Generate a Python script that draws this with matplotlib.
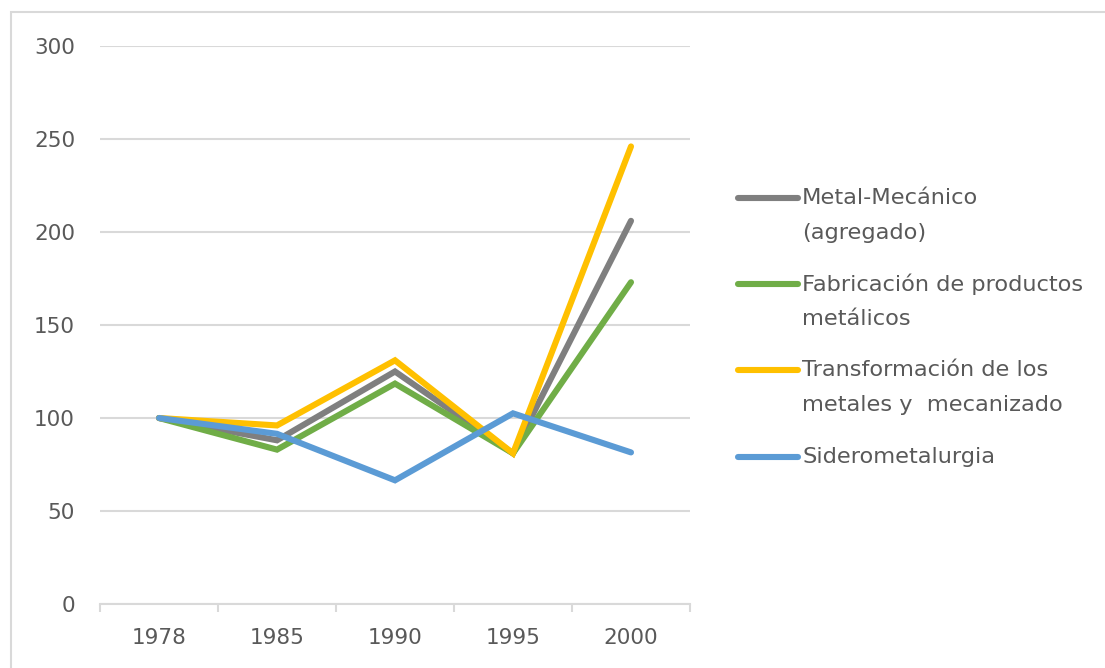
import matplotlib
matplotlib.use("Agg")
import matplotlib.pyplot as plt
from matplotlib.lines import Line2D
from matplotlib.patches import Rectangle

years = ["1978", "1985", "1990", "1995", "2000"]
metal_mecanico = [100, 88, 125, 81, 206]
fabricacion = [100, 83, 118.5, 81, 173]
transformacion = [100, 96, 131, 81, 246]
siderometalurgia = [100, 91.5, 66.5, 102.5, 81.5]

series = [
    (["Metal-Mecánico", "(agregado)"], metal_mecanico, "#7F7F7F"),
    (["Fabricación de productos", "metálicos"], fabricacion, "#70AD47"),
    (["Transformación de los", "metales y  mecanizado"], transformacion, "#FFC000"),
    (["Siderometalurgia"], siderometalurgia, "#5B9BD5"),
]

W, H = 1105, 668
plt.rcParams["font.family"] = ["DejaVu Sans"]
text_color = "#595959"
grid_color = "#D9D9D9"
tick_size = 15.5
legend_size = 16.2

fig = plt.figure(figsize=(W / 100, H / 100), dpi=100)
fig.patch.set_facecolor("white")

# chart frame
fig.add_artist(Rectangle((11 / W, -0.05), 1.2, (H - 12) / H + 0.05,
                         transform=fig.transFigure, fill=False,
                         edgecolor=grid_color, linewidth=1.5))

ax = fig.add_axes([100 / W, (H - 604) / H, 590 / W, 558 / H])
x = list(range(len(years)))
for label, vals, color in series:
    ax.plot(x, vals, color=color, linewidth=4.4, solid_capstyle="round",
            solid_joinstyle="miter", zorder=3)

ax.set_xlim(-0.5, len(years) - 0.5)
ax.set_ylim(0, 300)
ax.set_yticks(range(0, 301, 50))
ax.yaxis.grid(True, color=grid_color, linewidth=1.5)
ax.set_axisbelow(True)
for s in ["top", "right", "left"]:
    ax.spines[s].set_visible(False)
ax.spines["bottom"].set_color(grid_color)
ax.spines["bottom"].set_linewidth(1.5)
ax.spines["bottom"].set_zorder(2)

ax.set_xticks(x)
ax.set_xticklabels(years)
ax.set_xticks([i - 0.5 for i in range(len(years) + 1)], minor=True)
ax.tick_params(axis="x", which="major", length=0, pad=17, labelsize=tick_size,
               labelcolor=text_color)
ax.tick_params(axis="x", which="minor", length=6, width=1.5, color=grid_color)
ax.tick_params(axis="y", length=0, pad=18, labelsize=tick_size, labelcolor=text_color)

# legend, handle aligned with the first line of each entry
legend_y = [198, 284, 370, 457]
line_step = 35
for (lines, vals, color), yy in zip(series, legend_y):
    fy = (H - yy) / H
    fig.add_artist(Line2D([738 / W, 798 / W], [fy, fy], transform=fig.transFigure,
                          color=color, linewidth=4.4, solid_capstyle="round"))
    for k, txt in enumerate(lines):
        fig.text(802 / W, (H - yy - k * line_step) / H, txt,
                 transform=fig.transFigure, fontsize=legend_size,
                 color=text_color, va="center", ha="left")

fig.savefig("out.png", dpi=100, facecolor="white")
